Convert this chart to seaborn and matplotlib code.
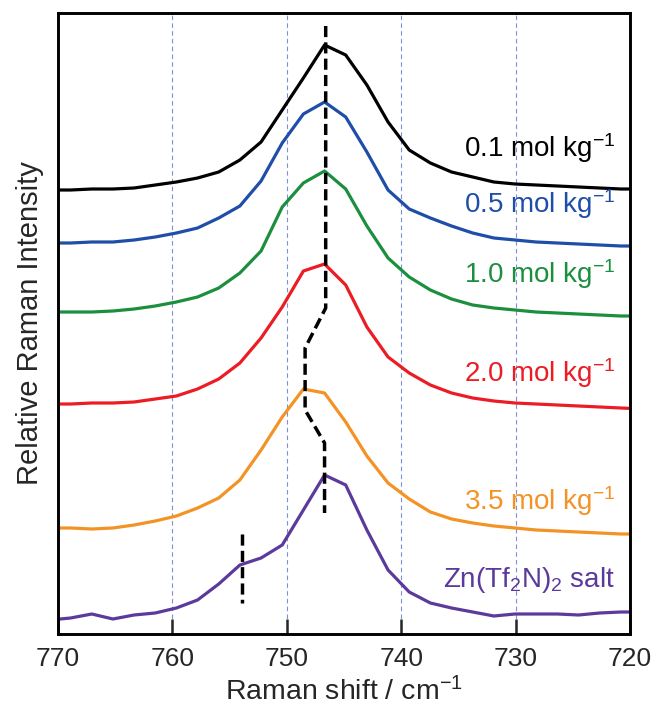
import matplotlib
matplotlib.use("Agg")
import matplotlib.pyplot as plt
import seaborn as sns
import pandas as pd

# ---------------- data ----------------
shift = [770.75, 768.9, 767.05, 765.2, 763.35, 761.5, 759.65, 757.8, 755.95, 754.1,
         752.25, 750.4, 748.55, 746.7, 744.85, 743.0, 741.15, 739.3, 737.45, 735.6,
         733.75, 731.9, 730.05, 728.2, 726.35, 724.5, 722.65, 720.8, 718.95]

int_01 = [4.44, 4.44, 4.45, 4.45, 4.46, 4.49, 4.52, 4.56, 4.62, 4.74, 4.92, 5.24, 5.56, 5.89, 5.79,
          5.49, 5.12, 4.84, 4.71, 4.62, 4.57, 4.52, 4.50, 4.49, 4.48, 4.47, 4.46, 4.45, 4.45]
int_05 = [3.91, 3.91, 3.92, 3.92, 3.94, 3.97, 4.01, 4.06, 4.16, 4.28, 4.53, 4.91, 5.20, 5.32, 5.17,
          4.82, 4.44, 4.25, 4.16, 4.08, 4.01, 3.96, 3.94, 3.92, 3.91, 3.90, 3.89, 3.88, 3.88]
int_10 = [3.22, 3.22, 3.22, 3.23, 3.25, 3.28, 3.32, 3.37, 3.46, 3.61, 3.83, 4.27, 4.51, 4.63, 4.45,
          4.08, 3.76, 3.57, 3.44, 3.35, 3.29, 3.26, 3.24, 3.22, 3.21, 3.20, 3.19, 3.18, 3.18]
int_20 = [2.30, 2.30, 2.31, 2.31, 2.32, 2.35, 2.38, 2.45, 2.55, 2.71, 2.96, 3.27, 3.63, 3.70, 3.49,
          3.07, 2.77, 2.61, 2.49, 2.41, 2.36, 2.33, 2.31, 2.30, 2.29, 2.28, 2.27, 2.26, 2.25]
int_35 = [1.06, 1.06, 1.05, 1.06, 1.09, 1.13, 1.18, 1.26, 1.36, 1.54, 1.84, 2.17, 2.45, 2.41, 2.12,
          1.78, 1.51, 1.35, 1.22, 1.15, 1.11, 1.08, 1.06, 1.04, 1.03, 1.02, 1.01, 1.00, 1.00]
int_salt = [0.14, 0.16, 0.20, 0.15, 0.19, 0.21, 0.26, 0.34, 0.50, 0.69, 0.76, 0.89, 1.24, 1.59, 1.49,
            1.04, 0.64, 0.42, 0.31, 0.26, 0.22, 0.18, 0.20, 0.20, 0.20, 0.19, 0.21, 0.22, 0.22]

labels = ["0.1 mol kg$^{-1}$", "0.5 mol kg$^{-1}$", "1.0 mol kg$^{-1}$",
          "2.0 mol kg$^{-1}$", "3.5 mol kg$^{-1}$", "Zn(Tf$_{2}$N)$_{2}$ salt"]
label_y = [4.77, 4.21, 3.51, 2.52, 1.24, 0.47]
label_x = 721.3

# peak position guide (dashed)
peak_x = [746.6, 746.6, 748.4, 748.4, 746.7, 746.7]
peak_y = [6.08, 3.26, 2.86, 2.24, 1.91, 1.21]
shoulder_x = [753.9, 753.9]
shoulder_y = [1.00, 0.31]

xticks = [770, 760, 750, 740, 730, 720]
grid_x = [760, 750, 740, 730]

colors = ["#000000", "#1f4ea8", "#1b8f3e", "#ec1c24", "#f39325", "#5b3a9b"]
series = [int_01, int_05, int_10, int_20, int_35, int_salt]

# ---------------- plot ----------------
sns.set_style("ticks")
plt.rcParams["font.family"] = ["Liberation Sans", "DejaVu Sans"]
plt.rcParams["mathtext.default"] = "regular"
plt.rcParams["mathtext.fontset"] = "custom"
plt.rcParams["mathtext.rm"] = "Liberation Sans"

fig = plt.figure(figsize=(6.56, 7.09), dpi=100)
ax = fig.add_axes([58 / 656, 1 - 634 / 709, 572 / 656, 621 / 709])

for gx in grid_x:
    ax.axvline(gx, color="#7d8fd6", lw=0.8, ls=(0, (4, 3)), zorder=0)

for vals, col in zip(series, colors):
    df = pd.DataFrame({"shift": shift, "I": vals})
    sns.lineplot(data=df, x="shift", y="I", color=col, lw=2.3, sort=False, ax=ax,
                 estimator=None)

ax.plot(peak_x, peak_y, color="black", lw=2.5, ls=(0, (3.2, 1.5)), zorder=5)
ax.plot(shoulder_x, shoulder_y, color="black", lw=2.5, ls=(0, (3.2, 1.5)), zorder=5)

for lab, ly, col in zip(labels, label_y, colors):
    ax.text(label_x, ly, lab, color=col, fontsize=20, ha="right", va="baseline")

ax.set_xlim(770, 720)
ax.set_ylim(0, 6.21)
ax.set_xticks(xticks)
ax.set_xticklabels([str(t) for t in xticks], fontsize=19)
ax.set_yticks([])
ax.tick_params(axis="x", direction="in", length=11, width=1.8, pad=9, top=False)
for sp in ax.spines.values():
    sp.set_linewidth(2.1)
    sp.set_color("black")
    sp.set_visible(True)

ax.set_xlabel("Raman shift / cm$^{-1}$", fontsize=20.5, labelpad=5)
ax.set_ylabel("Relative Raman Intensity", fontsize=21, labelpad=10)

fig.savefig("out.png", dpi=100)
